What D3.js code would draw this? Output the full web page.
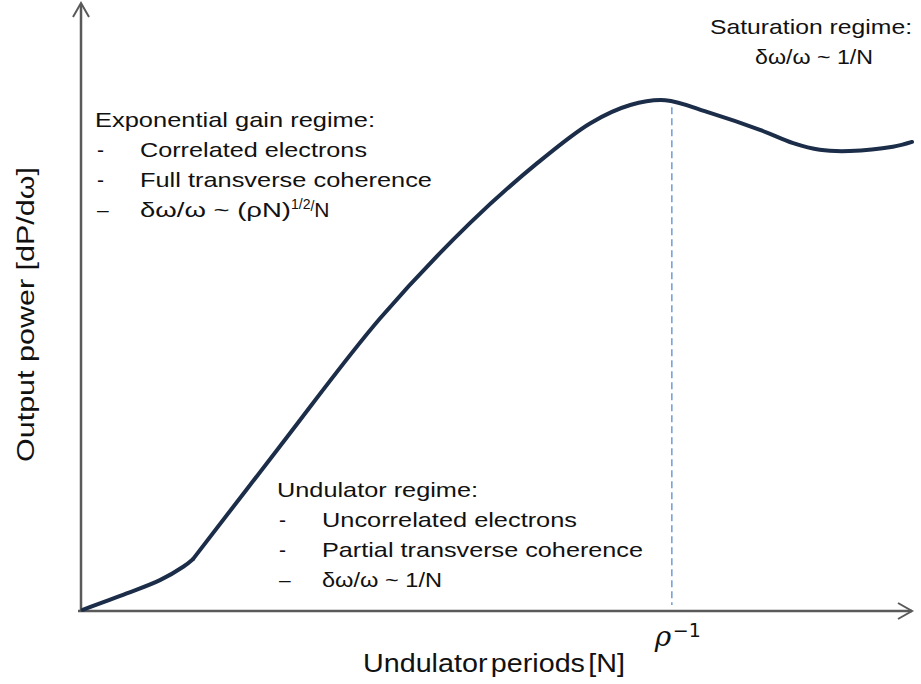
<!DOCTYPE html>
<html><head><meta charset="utf-8">
<script src="https://cdn.jsdelivr.net/npm/d3@7"></script>
<style>
html,body{margin:0;padding:0;background:#fff;}
text{font-family:"Liberation Sans",Arial,sans-serif;fill:#111;}
</style></head>
<body>
<svg id="chart" width="921" height="684"></svg>
<script>
// ---- data (arbitrary units) ----
const undulatorN = [0.2, 5.5, 9.5, 12.3, 13.5];
const undulatorP = [0.2, 2.9, 5.1, 7.3, 8.6];
const gainN = [13.5, 23.9, 36.0, 46.8, 54.9, 61.3, 66.1, 70.3, 75.7, 81.7, 85.7, 88.9, 92.5, 97.7, 100];
const gainP = [8.6, 27.1, 48.3, 64.0, 73.9, 80.5, 83.5, 84.3, 82.2, 79.4, 77.2, 76.1, 75.9, 76.6, 77.4];
const rhoInvN = 71.1;
const xLabel = "Undulator periods [N]";
const yLabel = "Output power [dP/dω]";

const svg = d3.select("#chart");
const x = d3.scaleLinear().domain([0, 100]).range([81, 912]);
const y = d3.scaleLinear().domain([0, 100]).range([611, 5]);

const axisColor = "#5a5a5a";
// axes
svg.append("line").attr("x1", x(0)-3).attr("x2", x(100)).attr("y1", y(0)).attr("y2", y(0))
  .attr("stroke", axisColor).attr("stroke-width", 2.5);
svg.append("line").attr("x1", x(0)).attr("x2", x(0)).attr("y1", y(0)+1).attr("y2", y(100)-1)
  .attr("stroke", axisColor).attr("stroke-width", 2.5);
// arrowheads
svg.append("path").attr("d", `M${x(100)-14},${y(0)-8} L${x(100)},${y(0)} L${x(100)-14},${y(0)+8}`)
  .attr("fill", "none").attr("stroke", axisColor).attr("stroke-width", 2);
svg.append("path").attr("d", `M${x(0)-8},${y(100)+12} L${x(0)},${y(100)-2} L${x(0)+8},${y(100)+12}`)
  .attr("fill", "none").attr("stroke", axisColor).attr("stroke-width", 2);

// dashed rho^-1 marker
svg.append("line").attr("x1", x(rhoInvN)).attr("x2", x(rhoInvN))
  .attr("y1", y(d3.max(gainP)) + 7).attr("y2", y(0) - 6)
  .attr("stroke", "#6f9bd6").attr("stroke-width", 1.5).attr("stroke-dasharray", "7,4");

// curve
const curveColor = "#1b2d48";
const seg1 = undulatorN.map((d, i) => [d, undulatorP[i]]);
const seg2 = gainN.map((d, i) => [d, gainP[i]]);
const line = d3.line().x(d => x(d[0])).y(d => y(d[1])).curve(d3.curveCatmullRom.alpha(0.5));
[seg1, seg2].forEach(s => svg.append("path").attr("d", line(s)).attr("fill", "none")
  .attr("stroke", curveColor).attr("stroke-width", 4).attr("stroke-linecap", "round").attr("stroke-linejoin", "round"));

// helper: text fitted to measured width
function txt(xp, yp, s, size, len, anchor) {
  const t = svg.append("text").attr("x", xp).attr("y", yp).attr("font-size", size).text(s);
  if (len) t.attr("textLength", len).attr("lengthAdjust", "spacingAndGlyphs");
  if (anchor) t.attr("text-anchor", anchor);
  return t;
}

// axis labels
txt(363, 672, xLabel, 25, 262).attr("word-spacing", -4);
svg.append("text").attr("transform", "translate(34,462) rotate(-90)")
  .attr("font-size", 23).attr("textLength", 295).attr("lengthAdjust", "spacingAndGlyphs").text(yLabel);

// rho^-1
svg.append("text").attr("x", x(rhoInvN) - 17).attr("y", 646)
  .attr("font-size", 28).style("font-family", "DejaVu Serif").attr("font-style", "italic").text("ρ");
svg.append("text").attr("x", x(rhoInvN) + 1).attr("y", 637).attr("font-size", 19)
  .style("font-family", "DejaVu Sans").text("−1");

// annotation blocks
const fs = 21;
txt(95, 127, "Exponential gain regime:", fs, 280);
txt(97, 157, "-", fs); txt(140, 157, "Correlated electrons", fs, 227);
txt(97, 187, "-", fs); txt(140, 187, "Full transverse coherence", fs, 292);
txt(97, 217, "–", fs);
const e = svg.append("text").attr("x", 140).attr("y", 217).attr("font-size", fs);
e.append("tspan").text("δω/ω ~ (ρN)").attr("textLength", 151).attr("lengthAdjust", "spacingAndGlyphs");
e.append("tspan").text("1/2").attr("font-size", 14).attr("dy", -8);
e.append("tspan").text("/").attr("font-size", 14).attr("dy", 2);
e.append("tspan").text("N").attr("dy", 6);

txt(277, 497, "Undulator regime:", fs, 201);
txt(279, 527, "-", fs); txt(322, 527, "Uncorrelated electrons", fs, 255);
txt(279, 557, "-", fs); txt(322, 557, "Partial transverse coherence", fs, 321);
txt(279, 587, "–", fs); txt(322, 587, "δω/ω ~ 1/N", fs, 120);

txt(710, 34, "Saturation regime:", fs, 202);
txt(755, 64, "δω/ω ~ 1/N", fs, 118);
</script>
</body></html>
